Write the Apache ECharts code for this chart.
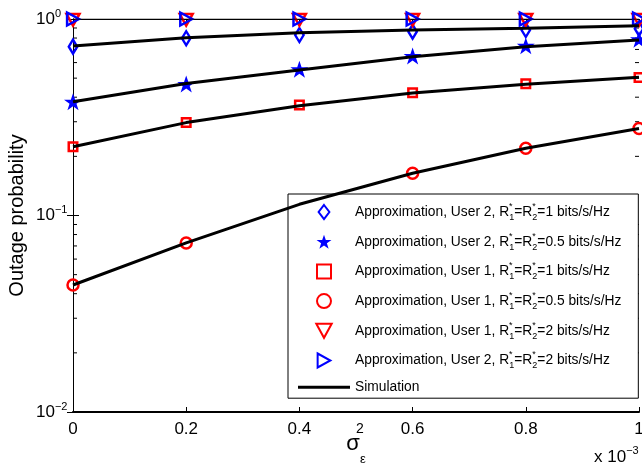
<!DOCTYPE html>
<html><head><meta charset="utf-8">
<script src="https://cdn.jsdelivr.net/npm/echarts@6/dist/echarts.min.js"></script>
<style>html,body{margin:0;padding:0;background:#fff}#c{width:642px;height:472px}</style>
</head><body><div id="c"></div>
<script>
// ---- data ----
const xValues = [0, 0.2, 0.4, 0.6, 0.8, 1.0];
const xTickLabels = ['0', '0.2', '0.4', '0.6', '0.8', '1'];
const yTickLabels = { '0.01': '10{sp|\u22122}', '0.1': '10{sp|\u22121}', '1': '10{sp|0}' };
const minorTickValues = [0.02, 0.03, 0.04, 0.05, 0.06, 0.07, 0.08, 0.09, 0.2, 0.3, 0.4, 0.5, 0.6, 0.7, 0.8, 0.9];

const approxU2R1   = [0.723, 0.798, 0.829, 0.862, 0.879, 0.893];
const approxU2R05  = [0.379, 0.467, 0.555, 0.648, 0.730, 0.788];
const approxU1R1   = [0.224, 0.297, 0.365, 0.422, 0.468, 0.504];
const approxU1R05  = [0.0443, 0.0725, 0.1138, 0.164, 0.220, 0.277];
const approxU1R2   = [0.99, 0.99, 0.99, 0.99, 0.99, 0.99];
const approxU2R2   = [1.0, 1.0, 1.0, 1.0, 1.0, 1.0];

const simU2R1  = [0.728, 0.803, 0.852, 0.879, 0.897, 0.924];
const simU2R05 = [0.379, 0.470, 0.550, 0.643, 0.723, 0.782];
const simU1R1  = [0.224, 0.297, 0.362, 0.420, 0.466, 0.505];
const simU1R05 = [0.0443, 0.0725, 0.114, 0.164, 0.220, 0.277];
const simR2    = [1.0, 1.0, 1.0, 1.0, 1.0, 1.0];

const legendNames = [
  'Approximation, User 2, R1*=R2*=1 bits/s/Hz',
  'Approximation, User 2, R1*=R2*=0.5 bits/s/Hz',
  'Approximation, User 1, R1*=R2*=1 bits/s/Hz',
  'Approximation, User 1, R1*=R2*=0.5 bits/s/Hz',
  'Approximation, User 1, R1*=R2*=2 bits/s/Hz',
  'Approximation, User 2, R1*=R2*=2 bits/s/Hz',
  'Simulation'
];

const FONT = 'Liberation Sans, Arial, sans-serif';
const BLUE = '#0000ff', RED = '#ff0000';
const starPath = 'path://M50,0 L61.8,35.1 L98.9,35.1 L68.9,56.8 L80.3,91.9 L50,70.2 L19.7,91.9 L31.1,56.8 L1.1,35.1 L38.2,35.1 Z';
const diamondPath = 'path://M5,0 L10,6.5 L5,13 L0,6.5 Z';
const squarePath = 'path://M0,0 H10 V10 H0 Z';
const downTriPath = 'path://M0,0 L11,0 L5.5,10 Z';
const rightTriPath = 'path://M0,0 L10,5.5 L0,11 Z';

function pairs(ys) { return xValues.map((x, i) => [x, ys[i]]); }

function scatter(name, ys, symbol, size, color, filled) {
  return {
    name: name, type: 'scatter', data: pairs(ys), symbol: symbol, symbolSize: size,
    symbolKeepAspect: true, clip: false,
    itemStyle: filled ? { color: color, borderWidth: 0, opacity: 1 } : { color: 'none', borderColor: color, borderWidth: 2.5, opacity: 1 },
    z: 3
  };
}
function simLine(ys, w) {
  return {
    name: 'Simulation', type: 'line', data: pairs(ys), symbol: 'none', clip: true,
    lineStyle: { color: '#000', width: w || 3 }, itemStyle: { color: '#000' }, z: 4
  };
}

const series = [
  scatter(legendNames[0], approxU2R1, diamondPath, [11, 14], BLUE, false),
  scatter(legendNames[1], approxU2R05, starPath, 18, BLUE, true),
  scatter(legendNames[2], approxU1R1, squarePath, 8.5, RED, false),
  scatter(legendNames[3], approxU1R05, 'circle', 11, RED, false),
  scatter(legendNames[4], approxU1R2, downTriPath, 13, RED, false),
  scatter(legendNames[5], approxU2R2, rightTriPath, 13, BLUE, false),
  simLine(simU2R1), simLine(simU2R05), simLine(simU1R1), simLine(simU1R05), simLine(simR2, 1.2)
];

const legendData = legendNames.map(n => n === 'Simulation'
  ? { name: n, icon: 'path://M0,0 H52 V3 H0 Z', textStyle: { lineHeight: 14 } }
  : { name: n });

const xLabelGraphic = {
  id: 'xexp', type: 'text', left: 594, top: 445, silent: true,
  style: { text: 'x 10{sp|\u22123}', fontFamily: FONT, fontSize: 17, fill: '#000', lineHeight: 24,
    rich: { sp: { fontFamily: FONT, fontSize: 11, fill: '#000', verticalAlign: 'top', lineHeight: 11 } } }
};

const chart = echarts.init(document.getElementById('c'), null, { renderer: 'canvas' });
chart.setOption({
  animation: false,
  backgroundColor: '#fff',
  textStyle: { fontFamily: FONT, color: '#000' },
  grid: { left: 73, right: 3, top: 19, bottom: 60, containLabel: false, outerBoundsMode: 'none' },
  xAxis: [{
    type: 'value', min: 0, max: 1, interval: 0.2, position: 'bottom',
    axisLine: { lineStyle: { color: '#000', width: 2 } },
    axisTick: { inside: true, length: 5, lineStyle: { color: '#000' } },
    splitLine: { show: false },
    axisLabel: { fontSize: 17, color: '#000', fontFamily: FONT, margin: 9,
      formatter: v => xTickLabels[Math.round(v / 0.2)] },
    name: '{s|\u03c3}{sp|2}{sb|\u03b5}', nameLocation: 'middle', nameGap: 10, nameMoveOverlap: false,
    nameTextStyle: { fontFamily: FONT, color: '#000', fontSize: 22, lineHeight: 44,
      rich: {
        s: { fontSize: 22, fontFamily: FONT, color: '#000', verticalAlign: 'middle' },
        sp: { fontSize: 14, fontFamily: FONT, color: '#000', verticalAlign: 'top', lineHeight: 14, width: 0.1 },
        sb: { fontSize: 13, fontFamily: FONT, color: '#000', verticalAlign: 'bottom', lineHeight: 13 }
      } }
  }, {
    type: 'value', min: 0, max: 1, interval: 0.2, position: 'top',
    axisLine: { lineStyle: { color: '#000', width: 1 } },
    axisTick: { inside: true, length: 5, lineStyle: { color: '#000' } },
    splitLine: { show: false }, axisLabel: { show: false }
  }],
  yAxis: [{
    type: 'log', logBase: 10, min: 0.01, max: 1, splitNumber: 2, position: 'left',
    axisLine: { show: true, lineStyle: { color: '#000', width: 1 } },
    axisTick: { inside: true, length: 6, lineStyle: { color: '#000' } },
    splitLine: { show: false },
    axisLabel: { margin: 37, align: 'left', color: '#000', fontSize: 17, fontFamily: FONT, lineHeight: 22,
      formatter: v => yTickLabels[String(+v.toPrecision(3))] || '',
      rich: { sp: { fontSize: 11, fontFamily: FONT, color: '#000', verticalAlign: 'top', lineHeight: 11 } } },
    name: 'Outage probability', nameLocation: 'middle', nameGap: 46, nameMoveOverlap: false,
    nameTextStyle: { fontFamily: FONT, color: '#000', fontSize: 20 }
  }, {
    type: 'log', logBase: 10, min: 0.01, max: 1, splitNumber: 2, position: 'right',
    axisLine: { show: true, lineStyle: { color: '#000', width: 1 } },
    axisTick: { inside: true, length: 6, lineStyle: { color: '#000' } },
    splitLine: { show: false }, axisLabel: { show: false }
  }],
  legend: {
    data: legendData, orient: 'vertical', left: 288, top: 194,
    padding: [8, 17, 4, 10], itemWidth: 52, itemHeight: 14, itemGap: 9.7,
    backgroundColor: '#fff', borderColor: '#000', borderWidth: 1, borderRadius: 0,
    selectedMode: false,
    formatter: name => name.replace(/R([12])\*/g, 'R{sp|*}{sb|$1}'),
    textStyle: { fontFamily: FONT, fontSize: 13.8, color: '#000', lineHeight: 20,
      rich: {
        sp: { fontFamily: FONT, fontSize: 9, color: '#000', verticalAlign: 'top', lineHeight: 9, width: 0.1 },
        sb: { fontFamily: FONT, fontSize: 9, color: '#000', verticalAlign: 'bottom', lineHeight: 9 }
      } }
  },
  graphic: [xLabelGraphic],
  series: series
});

// minor ticks of the log axes, placed through the axis scale
const minorGraphics = [];
minorTickValues.forEach((v, i) => {
  const pL = chart.convertToPixel({ xAxisIndex: 0, yAxisIndex: 0 }, [0, v]);
  const pR = chart.convertToPixel({ xAxisIndex: 0, yAxisIndex: 0 }, [1, v]);
  minorGraphics.push({ id: 'mL' + i, type: 'line', silent: true, z: 1,
    shape: { x1: pL[0], y1: pL[1], x2: pL[0] + 4, y2: pL[1] }, style: { stroke: '#000', lineWidth: 1 } });
  minorGraphics.push({ id: 'mR' + i, type: 'line', silent: true, z: 1,
    shape: { x1: pR[0] - 4, y1: pR[1], x2: pR[0], y2: pR[1] }, style: { stroke: '#000', lineWidth: 1 } });
});
chart.setOption({ graphic: [xLabelGraphic].concat(minorGraphics) });
</script>
</body></html>
